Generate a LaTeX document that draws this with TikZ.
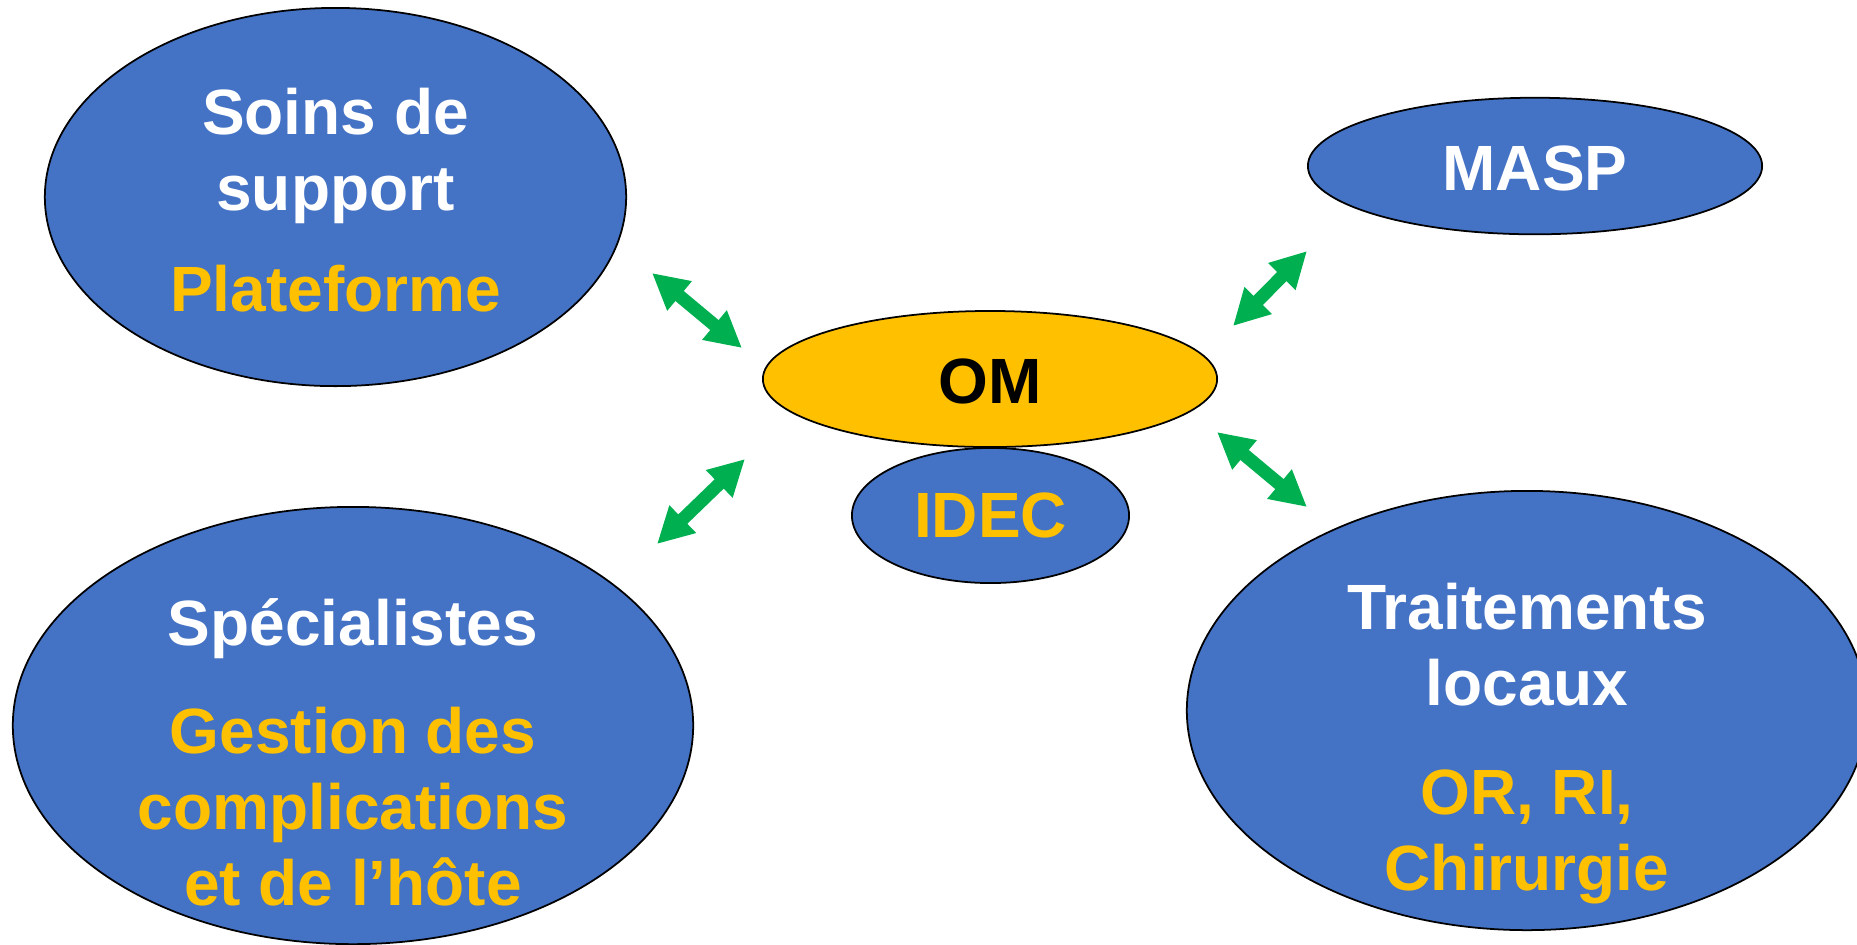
\documentclass[tikz,border=0pt]{standalone}
\usepackage{fontspec}
\setmainfont{Liberation Sans}
\usetikzlibrary{shapes.geometric,arrows.meta}
\definecolor{bleu}{HTML}{4472C4}
\definecolor{jaune}{HTML}{FFC000}
\definecolor{vert}{HTML}{00B050}
\tikzset{
  bulle/.style={ellipse,draw=black,line width=0.5pt,fill=bleu,inner sep=0pt},
  texte/.style={font=\fontsize{18.2}{21.6}\selectfont\bfseries,align=center,text=white,inner sep=0pt},
  fleche/.style={vert,line width=3.7pt,{Triangle[length=10.2pt,width=10.2pt]}-{Triangle[length=10.2pt,width=10.2pt]}}
}

\begin{document}
\begin{tikzpicture}[x=0.01cm,y=-0.01cm]
        \useasboundingbox (0,0) rectangle (1857,944);
        % bulles
        \node[bulle,minimum width=5.81cm,minimum height=3.78cm] (soins) at (335.5,197) {};
        \node[bulle,minimum width=4.54cm,minimum height=1.365cm] (masp) at (1535,166) {};
        \node[bulle,fill=jaune,minimum width=4.54cm,minimum height=1.36cm] (om) at (990,379) {};
        \node[bulle,minimum width=2.77cm,minimum height=1.35cm] (idec) at (990.5,515.5) {};
        \node[bulle,minimum width=6.80cm,minimum height=4.37cm] (spec) at (353,725.5) {};
        \node[bulle,minimum width=6.80cm,minimum height=4.39cm] (trait) at (1527,710.5) {};
        % textes
        \node[texte] (soinstxt) at ([yshift=-1pt]soins.center) {Soins de\\support\\[7.1pt]\textcolor{jaune}{Plateforme}};
        \node[texte] (masptxt) at ([yshift=-0.6pt]masp.center) {MASP};
        \node[texte,text=black] (omtxt) at ([yshift=-0.6pt]om.center) {OM};
        \node[texte,text=jaune] (idectxt) at (idec.center) {IDEC};
        \node[texte] (spectxt) at ([yshift=-7.7pt]spec.center) {Sp\'ecialistes\\[9.1pt]\textcolor{jaune}{Gestion des}\\\textcolor{jaune}{complications}\\\textcolor{jaune}{et de l’h\^ote}};
        \node[texte] (traittxt) at ([yshift=-9.4pt]trait.center) {Traitements\\locaux\\[9.4pt]\textcolor{jaune}{OR, RI,}\\\textcolor{jaune}{Chirurgie}};
        % fleches
        \coordinate (f1a) at (652,273);
        \coordinate (f1b) at (742,348);
        \coordinate (f2a) at (1233,326);
        \coordinate (f2b) at (1307,251);
        \coordinate (f3a) at (657,544);
        \coordinate (f3b) at (745,459);
        \coordinate (f4a) at (1217,432);
        \coordinate (f4b) at (1307,507);
        \draw[fleche] (f1a) -- (f1b);
        \draw[fleche] (f2a) -- (f2b);
        \draw[fleche] (f3a) -- (f3b);
        \draw[fleche] (f4a) -- (f4b);
\end{tikzpicture}
\end{document}
